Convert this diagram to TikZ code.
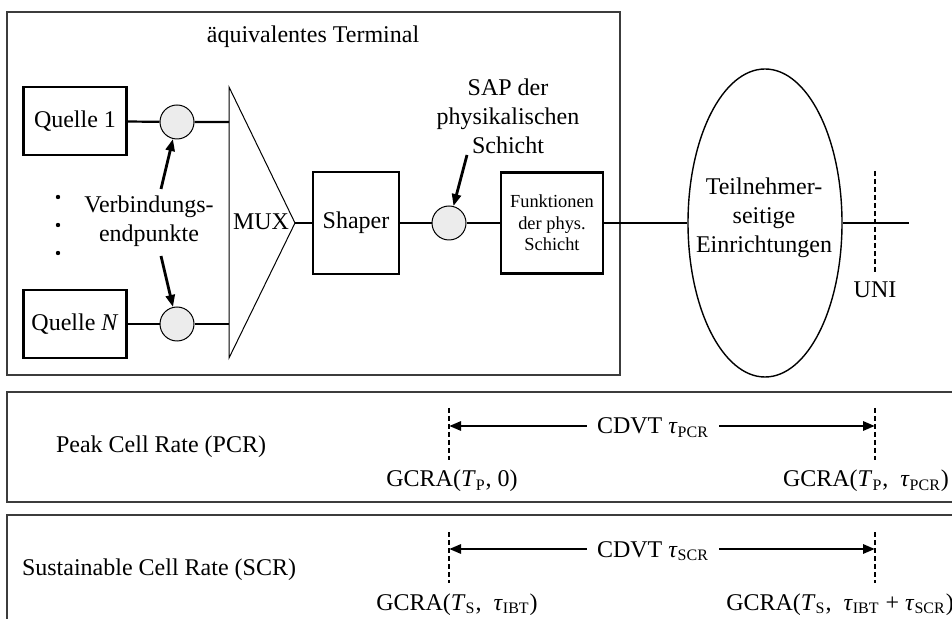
\documentclass[tikz,border=0pt]{standalone}
\usepackage{fontspec}
\setmainfont{Liberation Serif}
\usetikzlibrary{positioning, arrows.meta, shapes.geometric, calc}
\definecolor{sapGray}{RGB}{236,236,236}
\definecolor{frameGray}{RGB}{60,60,60}

\begin{document}
\begin{tikzpicture}[x=0.5pt, y=-0.5pt,
    font=\fontsize{12}{14.5}\selectfont,
    box/.style={draw, line width=1.1pt, minimum width=51.5pt, minimum height=34pt, inner sep=1pt},
    sap/.style={circle, draw, line width=0.5pt, fill=sapGray, minimum size=17pt, inner sep=0pt},
    wire/.style={line width=1.1pt},
    arr/.style={-{Triangle[length=6pt, width=4.5pt]}, line width=1.4pt},
    uniline/.style={line width=0.8pt, dash pattern=on 2.5pt off 1.5pt},
    lbl/.style={inner sep=0pt, anchor=base}]
  \clip (0,0) rectangle (952,619);

  % equivalent terminal
  \draw[line width=1pt, frameGray] (7,12) rectangle (620,375);
  \node[lbl] (term) at (313,43) {äquivalentes Terminal};

  \node[box] (q1) at (75,121) {Quelle 1};
  \node[box] (qN) at (75,324) {Quelle \textit{N}};
  \node[sap] (c1) at (177,122) {};
  \node[sap] (cN) at (177,324) {};
  \foreach \y in {197,225,253}
    \fill (58,\y) circle (1.1pt);

  % multiplexer
  \coordinate (muxT) at (229,87);
  \coordinate (muxB) at (229,358);
  \coordinate (muxO) at (295,223);
  \coordinate (m1) at (229,122);
  \coordinate (mN) at (229,324);
  \draw[line width=0.5pt] (muxT) -- (muxO) -- (muxB) -- cycle;
  \node (mux) at (261,222) {MUX};
  \draw[wire] (q1) -- (c1) -- (m1);
  \draw[wire] (qN) -- (cN) -- (mN);

  \node[align=center, inner sep=0pt] (verb) at (149,221) {Verbindungs-\\endpunkte};
  \coordinate (v1) at (161,189);
  \coordinate (vN) at (161,256);
  \draw[arr] (v1) -- (c1);
  \draw[arr] (vN) -- (cN);

  \node[box, minimum width=43pt, minimum height=51pt] (shaper) at (356,223) {Shaper};
  \node[sap] (csap) at (449,223) {};
  \node[box, minimum width=51pt, minimum height=50.5pt, align=center,
        font=\fontsize{9.2}{10.8}\selectfont] (phys) at (552,223) {Funktionen\\der phys.\\Schicht};
  \draw[wire] (muxO) -- (shaper);
  \draw[wire] (shaper) -- (csap) -- (phys);

  \node[align=center, inner sep=0pt] (sapl) at (508,116) {SAP der\\physikalischen\\Schicht};
  \coordinate (s1) at (467,155);
  \draw[arr] (s1) -- (csap);

  % customer premises and UNI
  \node[ellipse, draw, line width=0.7pt, minimum width=77pt, minimum height=154pt, inner sep=0pt] (teiln) at (765,223) {};
  \node[align=center, inner sep=0pt] (teilnl) at (764,218) {Teilnehmer-\\seitige\\Einrichtungen};
  \coordinate (lineEnd) at (909,223);
  \draw[wire] (phys) -- (teiln);
  \draw[wire] (teiln) -- (lineEnd);
  \coordinate (uniT) at (875,171);
  \coordinate (uniB) at (875,273);
  \draw[uniline] (uniT) -- (uniB);
  \node[lbl] (uni) at (875,298) {UNI};

  % PCR
  \draw[line width=1pt, frameGray] (7,392) rectangle (970,502);
  \node[lbl] (pcr) at (161,452) {Peak Cell Rate (PCR)};
  \coordinate (pA1) at (449,408);
  \coordinate (pA2) at (449,460);
  \coordinate (pB1) at (875,408);
  \coordinate (pB2) at (875,460);
  \coordinate (pL) at (449,426);
  \coordinate (pR) at (875,426);
  \draw[uniline] (pA1) -- (pA2);
  \draw[uniline] (pB1) -- (pB2);
  \node[lbl, inner xsep=5pt] (cdvtP) at (653,434) {CDVT \textit{τ}\textsubscript{PCR}};
  \draw[arr] (cdvtP.west |- pL) -- (pL);
  \draw[arr] (cdvtP.east |- pR) -- (pR);
  \node[lbl] (gp0) at (452,487) {GCRA(\textit{T}\textsubscript{P}, 0)};
  \node[lbl] (gp1) at (866,487) {GCRA(\textit{T}\textsubscript{P}, \ \textit{τ}\textsubscript{PCR})};

  % SCR
  \draw[line width=1pt, frameGray] (7,515) rectangle (970,640);
  \node[lbl] (scr) at (159,575) {Sustainable Cell Rate (SCR)};
  \coordinate (sA1) at (449,532);
  \coordinate (sA2) at (449,583);
  \coordinate (sB1) at (875,532);
  \coordinate (sB2) at (875,583);
  \coordinate (sL) at (449,549);
  \coordinate (sR) at (875,549);
  \draw[uniline] (sA1) -- (sA2);
  \draw[uniline] (sB1) -- (sB2);
  \node[lbl, inner xsep=5pt] (cdvtS) at (653,557) {CDVT \textit{τ}\textsubscript{SCR}};
  \draw[arr] (cdvtS.west |- sL) -- (sL);
  \draw[arr] (cdvtS.east |- sR) -- (sR);
  \node[lbl] (gs0) at (457,610) {GCRA(\textit{T}\textsubscript{S}, \ \textit{τ}\textsubscript{IBT})};
  \node[lbl] (gs1) at (840,610) {GCRA(\textit{T}\textsubscript{S}, \ \textit{τ}\textsubscript{IBT} + \textit{τ}\textsubscript{SCR})};
\end{tikzpicture}
\end{document}
